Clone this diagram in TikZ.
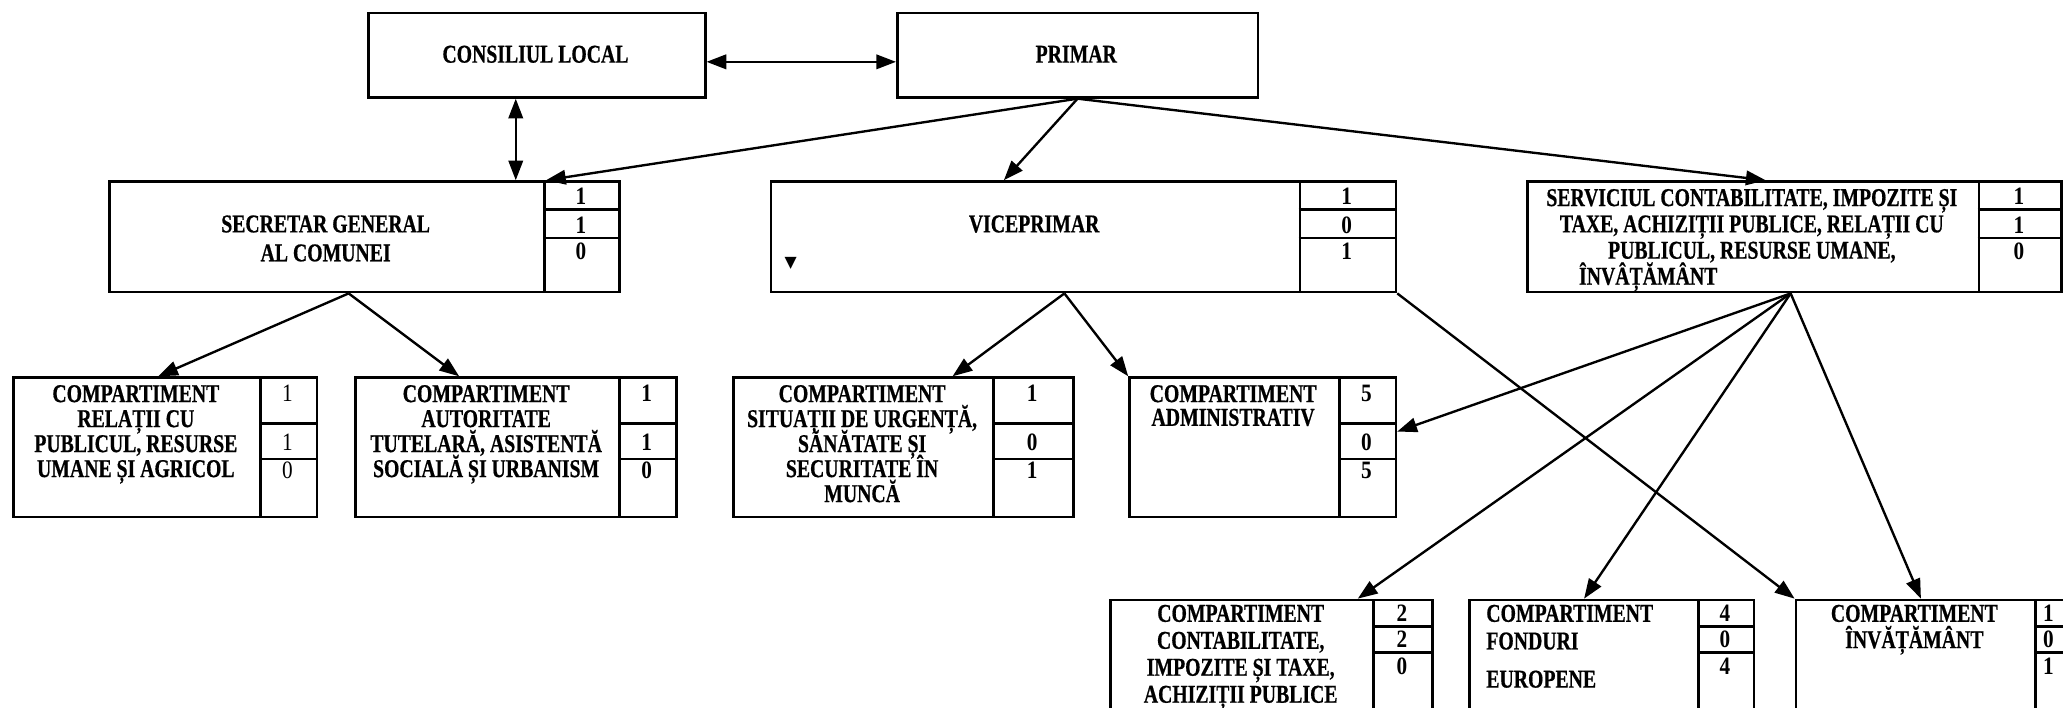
\documentclass[tikz,border=0pt]{standalone}
\usepackage{fontspec}
\setmainfont{Liberation Serif}
\newfontfamily\bt[FakeStretch=0.77,FakeBold=0.6]{Liberation Serif}
\newfontfamily\btn[FakeStretch=0.85]{Liberation Serif}
\newfontfamily\djv{DejaVu Sans}
\usetikzlibrary{arrows.meta}
\newcommand\fs{\rule{0pt}{14pt}}
\newcommand\bfont[1]{\bt\bfseries\fontsize{19.5}{#1}\selectfont\lineskiplimit=-100pt\relax}
\tikzset{
  box/.style={draw, line width=2pt, inner sep=0pt, anchor=north west},
  cell/.style={line width=2pt},
  txt/.style={inner sep=0pt, anchor=north, align=center, font=\bfont{#1}},
  txtl/.style={inner sep=0pt, anchor=north west, align=left, font=\bfont{#1}},
  num/.style={inner sep=0pt, anchor=base, font=\btn\bfseries\fontsize{19}{19}\selectfont},
  numr/.style={inner sep=0pt, anchor=base, font=\btn\fontsize{19}{19}\selectfont},
  arr/.style={line width=1.8pt, -{Triangle[length=15pt,width=11pt]}},
  arrb/.style={line width=1.8pt, {Triangle[length=15pt,width=11pt]}-{Triangle[length=15pt,width=11pt]}}
}
\begin{document}
\begin{tikzpicture}[x=1pt,y=-1pt]
\useasboundingbox (0,0) rectangle (1568,538);
\clip (0,0) rectangle (1568,538);
\fill[white] (0,0) rectangle (1568,538);

% ---- top level
\node[box, minimum width=256pt, minimum height=64pt] (cons) at (279,9) {};
\node[box, minimum width=274pt, minimum height=64pt] (prim) at (681,9) {};
\node[txt=19] (consT) at (407,33.4) {\fs CONSILIUL LOCAL};
\node[txt=19] (primT) at (818,33.4) {\fs PRIMAR};

% ---- level 2
\node[box, minimum width=331pt, minimum height=84pt] (secr) at (82,137) {};
\node[box, minimum width=57pt, minimum height=84pt] (secrc) at (413,137) {};
\node[box, minimum width=402pt, minimum height=84pt] (vice) at (585,137) {};
\node[box, minimum width=73pt, minimum height=84pt] (vicec) at (987,137) {};
\node[box, minimum width=343pt, minimum height=84pt] (serv) at (1160,137) {};
\node[box, minimum width=63pt, minimum height=84pt] (servc) at (1503,137) {};
\foreach \a/\b in {413/470,987/1060,1503/1566}{
  \draw[cell] (\a,159) -- (\b,159);
  \draw[cell] (\a,181) -- (\b,181);
}
\node[txt=22] (secrT) at (247.5,162.4) {\fs SECRETAR GENERAL\\AL COMUNEI};
\node[txt=19] (viceT) at (786,162.4) {\fs VICEPRIMAR};
\node[inner sep=0pt, font=\djv\fontsize{12}{12}\selectfont] (vmark) at (601,200) {▼};
\node[txt=20] (servT) at (1331.5,142.4) {\fs SERVICIUL CONTABILITATE, IMPOZITE ȘI\\TAXE, ACHIZIȚII PUBLICE, RELAȚII CU\\PUBLICUL, RESURSE UMANE,};
\node[inner sep=0pt, anchor=base west, font=\bfont{20}] (servT2) at (1200,216.4) {ÎNVÂȚĂMÂNT};
\node[num] (sn1) at (441.5,155.4) {1};
\node[num] (sn2) at (441.5,177.4) {1};
\node[num] (sn3) at (441.5,197.4) {0};
\node[num] (vn1) at (1023.5,155.4) {1};
\node[num] (vn2) at (1023.5,177.4) {0};
\node[num] (vn3) at (1023.5,197.4) {1};
\node[num] (rn1) at (1534.5,155.4) {1};
\node[num] (rn2) at (1534.5,177.4) {1};
\node[num] (rn3) at (1534.5,197.4) {0};

% ---- level 3
\node[box, minimum width=187.5pt, minimum height=106pt] (rel) at (9.5,286) {};
\node[box, minimum width=43pt, minimum height=106pt] (relc) at (197,286) {};
\node[box, minimum width=201pt, minimum height=106pt] (aut) at (269,286) {};
\node[box, minimum width=43pt, minimum height=106pt] (autc) at (470,286) {};
\node[box, minimum width=197.5pt, minimum height=106pt] (sit) at (556.5,286) {};
\node[box, minimum width=61pt, minimum height=106pt] (sitc) at (754,286) {};
\node[box, minimum width=159.5pt, minimum height=106pt] (adm) at (857.5,286) {};
\node[box, minimum width=43pt, minimum height=106pt] (admc) at (1017,286) {};
\foreach \a/\b in {197/240,470/513,754/815,1017/1060}{
  \draw[cell] (\a,322) -- (\b,322);
  \draw[cell] (\a,349) -- (\b,349);
}
\node[txt=19] (relT) at (103.25,291.4) {\fs COMPARTIMENT\\RELAȚII CU\\PUBLICUL, RESURSE\\UMANE ȘI AGRICOL};
\node[txt=19] (autT) at (369.5,291.4) {\fs COMPARTIMENT\\AUTORITATE\\TUTELARĂ, ASISTENTĂ\\SOCIALĂ ȘI URBANISM};
\node[txt=19] (sitT) at (655.25,291.4) {\fs COMPARTIMENT\\SITUAȚII DE URGENȚĂ,\\SĂNĂTATE ȘI\\SECURITATE ÎN\\MUNCĂ};
\node[txt=18] (admT) at (937.25,291.4) {\fs COMPARTIMENT\\ADMINISTRATIV};
\node[numr] (ln1) at (218.5,305.4) {1};
\node[numr] (ln2) at (218.5,342.4) {1};
\node[numr] (ln3) at (218.5,363.4) {0};
\node[num] (an1) at (491.5,305.4) {1};
\node[num] (an2) at (491.5,342.4) {1};
\node[num] (an3) at (491.5,363.4) {0};
\node[num] (tn1) at (784.5,305.4) {1};
\node[num] (tn2) at (784.5,342.4) {0};
\node[num] (tn3) at (784.5,363.4) {1};
\node[num] (dn1) at (1038.5,305.4) {5};
\node[num] (dn2) at (1038.5,342.4) {0};
\node[num] (dn3) at (1038.5,363.4) {5};

% ---- level 4
\node[box, minimum width=200pt, minimum height=105pt] (cont) at (843,455) {};
\node[box, minimum width=45pt, minimum height=105pt] (contc) at (1043,455) {};
\node[box, minimum width=174pt, minimum height=105pt] (fond) at (1116,455) {};
\node[box, minimum width=42pt, minimum height=105pt] (fondc) at (1290,455) {};
\node[box, minimum width=182pt, minimum height=105pt] (inv) at (1364,455) {};
\node[box, minimum width=54pt, minimum height=105pt] (invc) at (1546,455) {};
\foreach \a/\b in {1043/1088,1290/1332,1546/1600}{
  \draw[cell] (\a,476) -- (\b,476);
  \draw[cell] (\a,496) -- (\b,496);
}
\node[txt=20.5] (contT) at (943,458.4) {\fs COMPARTIMENT\\CONTABILITATE,\\IMPOZITE ȘI TAXE,\\ACHIZIȚII PUBLICE};
\node[txtl=21] (fondT) at (1129.5,458.4) {\fs COMPARTIMENT\\FONDURI\\[8pt]EUROPENE};
\node[txt=20] (invT) at (1455,458.4) {\fs COMPARTIMENT\\ÎNVĂȚĂMÂNT};
\node[num] (cn1) at (1065.5,472.4) {2};
\node[num] (cn2) at (1065.5,492.4) {2};
\node[num] (cn3) at (1065.5,512.4) {0};
\node[num] (fn1) at (1311,472.4) {4};
\node[num] (fn2) at (1311,492.4) {0};
\node[num] (fn3) at (1311,512.4) {4};
\node[num] (in1) at (1557,472.4) {1};
\node[num] (in2) at (1557,492.4) {0};
\node[num] (in3) at (1557,512.4) {1};

% ---- connectors
\draw[arrb] ([yshift=-5pt]cons.east) -- ([yshift=-5pt]prim.west);
\coordinate (cv) at ([xshift=-16pt]cons.south);
\draw[arrb] (cv) -- (cv |- secr.north);
\draw[arr] (prim.south) -- (secr.north east);
\draw[arr] (prim.south) -- ([xshift=-24pt]vice.north);
\draw[arr] (prim.south) -- ([xshift=9.5pt]serv.north);

\coordinate (so) at ([xshift=16.5pt]secr.south);
\draw[arr] (so) -- ([xshift=16pt]rel.north);
\draw[arr] (so) -- ([xshift=-21.5pt]aut.north);

\coordinate (vo) at ([xshift=22pt]vice.south);
\draw[arr] (vo) -- ([xshift=-32pt]sit.north east);
\draw[arr] (vo) -- (adm.north west);
\draw[arr] (vicec.south east) -- (inv.north west);

\coordinate (ro) at ([xshift=28.5pt]serv.south);
\draw[arr] (ro) -- ([yshift=12pt]admc.east);
\draw[arr] (ro) -- ([xshift=-13pt]cont.north east);
\draw[arr] (ro) -- (fond.north);
\draw[arr] (ro) -- ([xshift=4pt]inv.north);
\end{tikzpicture}
\end{document}
